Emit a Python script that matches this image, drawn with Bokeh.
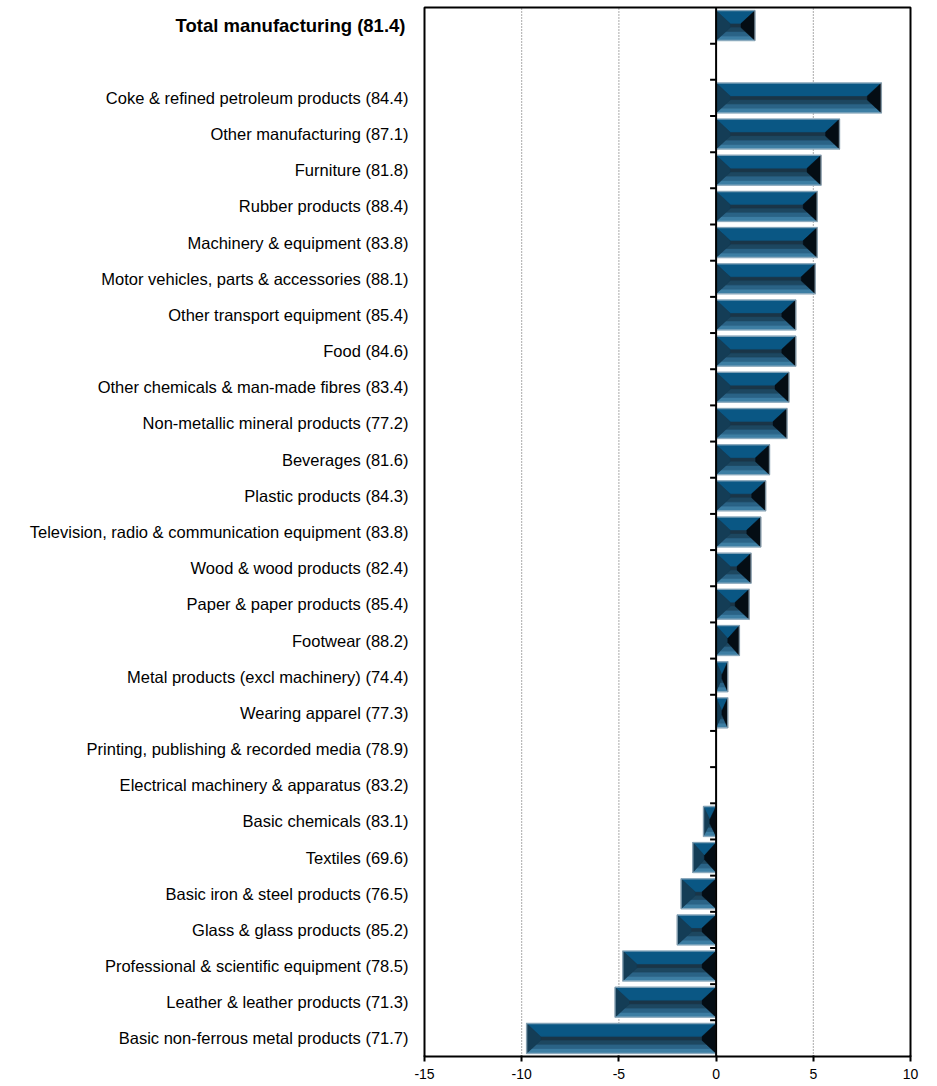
from bokeh.plotting import figure
from bokeh.models import Range1d, FixedTicker, ColumnDataSource
from bokeh.core.properties import value
from bokeh.embed import file_html
from bokeh.resources import INLINE

# ---------------- data ----------------
total_label = "Total manufacturing (81.4)"
total_value = 2.0

categories = [
    "Coke & refined petroleum products (84.4)",
    "Other manufacturing (87.1)",
    "Furniture (81.8)",
    "Rubber products (88.4)",
    "Machinery & equipment (83.8)",
    "Motor vehicles, parts & accessories (88.1)",
    "Other transport equipment (85.4)",
    "Food (84.6)",
    "Other chemicals & man-made fibres (83.4)",
    "Non-metallic mineral products (77.2)",
    "Beverages (81.6)",
    "Plastic products (84.3)",
    "Television, radio & communication equipment (83.8)",
    "Wood & wood products (82.4)",
    "Paper & paper products (85.4)",
    "Footwear (88.2)",
    "Metal products (excl machinery) (74.4)",
    "Wearing apparel (77.3)",
    "Printing, publishing & recorded media (78.9)",
    "Electrical machinery & apparatus (83.2)",
    "Basic chemicals (83.1)",
    "Textiles (69.6)",
    "Basic iron & steel products (76.5)",
    "Glass & glass products (85.2)",
    "Professional & scientific equipment (78.5)",
    "Leather & leather products (71.3)",
    "Basic non-ferrous metal products (71.7)",
]
values = [8.5, 6.35, 5.4, 5.2, 5.2, 5.1, 4.1, 4.1, 3.75, 3.65, 2.75, 2.55, 2.3,
          1.8, 1.7, 1.2, 0.6, 0.6, 0.0, 0.0, -0.65, -1.2, -1.8, -2.0, -4.8, -5.2, -9.75]

x_ticks = [-15, -10, -5, 0, 5, 10]
x_min, x_max = -15, 10

# ---------------- layout (pixels of the plot box inside the canvas) ----------------
W, H = 937, 1086
BOX_L, BOX_R, BOX_T, BOX_B = 424, 910, 7, 1056
FRAME_B = 1058
n_slots = len(categories) + 2
px_x = (BOX_R - BOX_L) / (x_max - x_min)
px_y = (BOX_B - BOX_T) / n_slots
y_lo, y_hi = -0.5, n_slots - 0.5

xr = Range1d(x_min - BOX_L / px_x, x_max + (W - BOX_R) / px_x)
yr = Range1d(y_lo - (FRAME_B - BOX_B) / px_y, y_hi + BOX_T / px_y)

p = figure(width=W, height=H, output_backend="svg", toolbar_location=None,
           x_range=xr, y_range=yr, y_axis_location=None,
           min_border_left=0, min_border_right=0, min_border_top=0,
           min_border_bottom=H - FRAME_B, background_fill_color="white",
           border_fill_color="white")
p.outline_line_color = None
p.grid.grid_line_color = None

# y positions: Total at top, blank slot, then categories
y_total = n_slots - 1
y_cats = [len(categories) - 1 - i for i in range(len(categories))]

# x axis (ticks + labels only; box line drawn separately)
p.xaxis.ticker = FixedTicker(ticks=x_ticks)
p.xaxis.major_label_overrides = {t: str(t) for t in x_ticks}
p.xaxis.axis_line_color = None
p.xaxis.major_tick_line_color = "black"
p.xaxis.major_tick_line_width = 2
p.xaxis.major_tick_in = 3
p.xaxis.major_tick_out = 3
p.xaxis.minor_tick_line_color = None
p.xaxis.major_label_standoff = 7
p.xaxis.major_label_text_font = "Liberation Sans"
p.xaxis.major_label_text_font_size = "14px"
p.xaxis.major_label_text_color = "black"

# dotted vertical grid lines inside the box
inner = [t for t in x_ticks if x_min < t < x_max and t != 0]
p.segment(x0=inner, x1=inner, y0=[y_lo] * len(inner), y1=[y_hi] * len(inner),
          line_color="#555555", line_width=1, line_dash="1 2")

# category labels
p.text(x=[x_min] * len(categories), y=y_cats, text=categories, x_offset=-16,
       text_align="right", text_baseline="middle",
       text_font=value("Liberation Sans"), text_font_size="16.5px",
       text_color="black")
p.text(x=[x_min], y=[y_total], text=[total_label], x_offset=-19,
       text_align="right", text_baseline="middle",
       text_font=value("Liberation Sans"), text_font_style="bold",
       text_font_size="18.5px", text_color="black")

# ---------------- bevelled bars ----------------
half_h = 15 / px_y
bev_y = 13 / px_y
bev_x0 = 14 / px_x

xs, ys, cols = [], [], []

def add(px, py, c):
    xs.append(px); ys.append(py); cols.append(c)

bottom_cols = ["#1d4760", "#2a6386", "#3d7ea3"]

all_vals = [total_value] + values
all_ys = [y_total] + y_cats
for v, c in zip(all_vals, all_ys):
    if v == 0:
        continue
    x0, x1 = min(0, v), max(0, v)
    bx = min(bev_x0, (x1 - x0) / 2)
    yt, yb = c + half_h, c - half_h
    yit, yib = yt - bev_y, yb + bev_y
    add([x0, x1, x1, x0], [yb, yb, yt, yt], "#1a3547")
    add([x0, x1, x1 - bx, x0 + bx], [yt, yt, yit, yit], "#0a5784")
    nb = len(bottom_cols)
    for i in range(nb):
        t0, t1 = i / nb, (i + 1) / nb
        ya, yb2 = yib - t0 * bev_y, yib - t1 * bev_y
        xla, xlb = x0 + bx - t0 * bx, x0 + bx - t1 * bx
        xra, xrb = x1 - bx + t0 * bx, x1 - bx + t1 * bx
        add([xla, xra, xrb, xlb], [ya, ya, yb2, yb2], bottom_cols[i])
    add([x0, x0 + bx, x0 + bx, x0], [yt, yit, yib, yb], "#143d56")
    add([x1, x1 - bx, x1 - bx, x1], [yt, yit, yib, yb], "#040d14")

src = ColumnDataSource(dict(xs=xs, ys=ys, c=cols))
p.patches("xs", "ys", source=src, fill_color="c", line_color="c",
          line_width=0.4)

# light halo outline round each bar
nz = [(v, c) for v, c in zip(all_vals, all_ys) if v != 0]
p.quad(left=[min(0, v) for v, c in nz], right=[max(0, v) for v, c in nz],
       bottom=[c - half_h for v, c in nz], top=[c + half_h for v, c in nz],
       fill_color=None, line_color="#a8bfcf", line_width=1.5, line_alpha=0.7)

# plot box
p.quad(left=[x_min], right=[x_max], bottom=[y_lo], top=[y_hi],
       fill_color=None, line_color="black", line_width=2)

# zero axis line with ticks at slot boundaries
p.segment(x0=[0], x1=[0], y0=[y_lo], y1=[y_hi], line_color="black",
          line_width=2)
bounds = [k + 0.5 for k in range(n_slots - 1)]
tick_len = 6 / px_x
p.segment(x0=[-tick_len] * len(bounds), x1=[0] * len(bounds),
          y0=bounds, y1=bounds, line_color="black", line_width=2)

open("out.html", "w").write(file_html(p, INLINE))
